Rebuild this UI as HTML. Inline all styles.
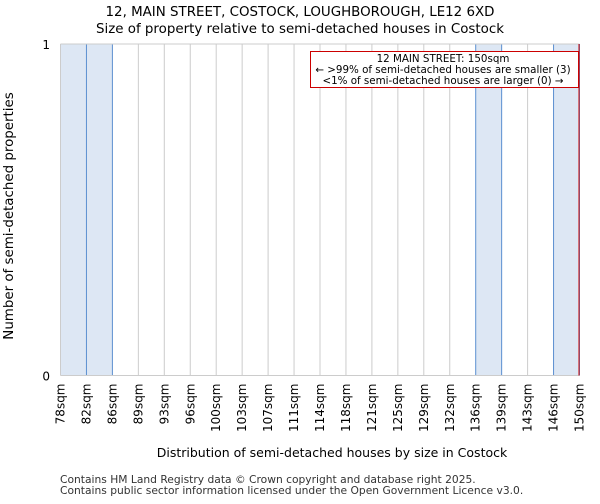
<!DOCTYPE html>
<html><head><meta charset="utf-8"><style>
body{margin:0;background:#fff;font-family:"DejaVu Sans","Liberation Sans",sans-serif;}
text{font-family:"DejaVu Sans","Liberation Sans",sans-serif;}
</style></head><body>
<svg width="600" height="500" xmlns="http://www.w3.org/2000/svg" id="chart">
<text x="300" y="16" text-anchor="middle" font-size="13.4">12, MAIN STREET, COSTOCK, LOUGHBOROUGH, LE12 6XD</text>
<text x="300" y="33" text-anchor="middle" font-size="13.4">Size of property relative to semi-detached houses in Costock</text>
<g id="plot"></g>
<text x="332" y="457" text-anchor="middle" font-size="12.5">Distribution of semi-detached houses by size in Costock</text>
<text transform="translate(13,216) rotate(-90)" text-anchor="middle" font-size="13.4">Number of semi-detached properties</text>
<text x="60" y="483" font-size="10.7" fill="#333">Contains HM Land Registry data © Crown copyright and database right 2025.</text>
<text x="60" y="494" font-size="10.7" fill="#333">Contains public sector information licensed under the Open Government Licence v3.0.</text>
</svg>
<script>
const tickLabels=["78sqm","82sqm","86sqm","89sqm","93sqm","96sqm","100sqm","103sqm","107sqm","111sqm","114sqm","118sqm","121sqm","125sqm","129sqm","132sqm","136sqm","139sqm","143sqm","146sqm","150sqm"];
const counts=[1,1,0,0,0,0,0,0,0,0,0,0,0,0,0,0,1,0,0,1];
const yTicks=[0,1];
const markerIndex=20;
const annotationLines=["12 MAIN STREET: 150sqm","← >99% of semi-detached houses are smaller (3)","<1% of semi-detached houses are larger (0) →"];
const NS="http://www.w3.org/2000/svg";
const g=document.getElementById('plot');
const L=60.5,R=579.5,T=44,B=375.5,yMax=1;
const xs=i=>L+i*(R-L)/counts.length;
const ys=v=>B-v*(B-T)/yMax;
function mk(tag,a){const e=document.createElementNS(NS,tag);for(const k in a)e.setAttribute(k,a[k]);g.appendChild(e);return e;}
counts.forEach((c,i)=>{if(c>0){const r=mk('rect',{x:xs(i),y:ys(c),width:xs(i+1)-xs(i),height:B-ys(c),fill:'#dde7f4'});

}});
for(let i=0;i<=counts.length;i++){const blue=(i>0&&counts[i-1]>0)||(i<counts.length&&counts[i]>0&&i>0);
const l=mk('line',{x1:xs(i),x2:xs(i),y1:T,y2:B,stroke:blue?'#5b8fd0':'#cccccc','stroke-width':1});

}
const tl=mk('line',{x1:L,x2:R,y1:T,y2:T,stroke:'#cccccc'});


const bl=mk('line',{x1:L,x2:R,y1:B,y2:B,stroke:'#cccccc'});


yTicks.forEach(v=>{const t=mk('text',{x:50,y:ys(v)+5,'text-anchor':'end','font-size':12});t.textContent=v;

});
tickLabels.forEach((s,i)=>{const x=xs(i)+4;const t=mk('text',{transform:`translate(${x},${B+8}) rotate(-90)`,'text-anchor':'end','font-size':12});t.textContent=s;

});
const mx=xs(markerIndex)-0.5;
const ml=mk('line',{x1:mx,x2:mx,y1:T,y2:B,stroke:'#cc0000','stroke-width':1});


const box=mk('rect',{x:310.5,y:51.5,width:268,height:36,fill:'#fff',stroke:'#cc0000'});


annotationLines.forEach((s,i)=>{const t=mk('text',{x:443,y:62+i*11,'text-anchor':'middle','font-size':10.3});t.textContent=s;

});
</script>
</body></html>
